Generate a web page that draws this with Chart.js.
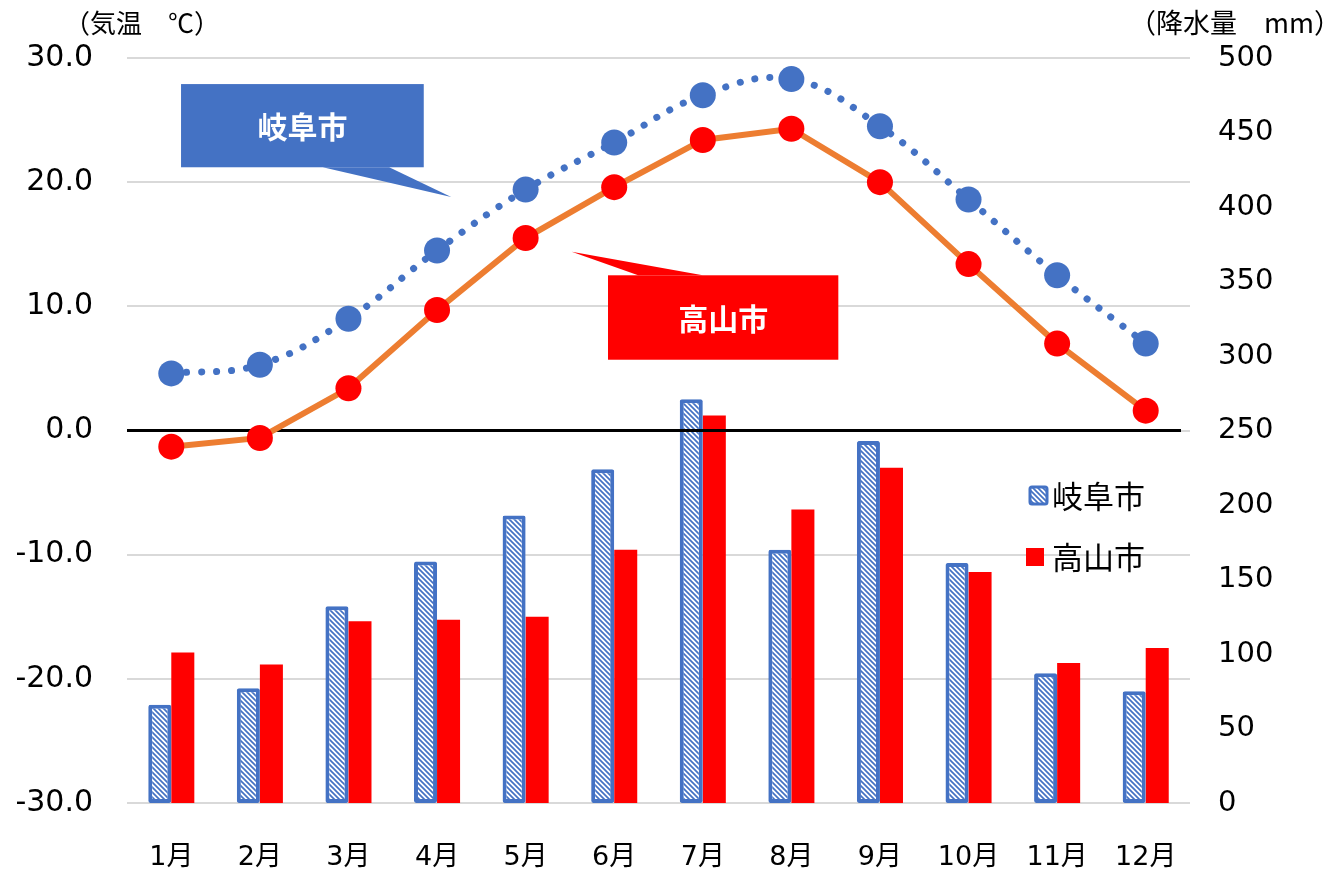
<!DOCTYPE html>
<html lang="ja">
<head>
<meta charset="utf-8">
<script src="https://cdn.jsdelivr.net/npm/chart.js@4.4.0/dist/chart.umd.min.js"></script>
<style>
  body { margin: 0; background: #fff; }
</style>
</head>
<body>
<canvas id="climateChart" width="1337" height="872"></canvas>
<script>
// data
const months = ['1月', '2月', '3月', '4月', '5月', '6月', '7月', '8月', '9月', '10月', '11月', '12月'];
const gifuTemp = [4.6, 5.3, 9.0, 14.5, 19.4, 23.2, 27.0, 28.3, 24.5, 18.6, 12.5, 7.0];
const takayamaTemp = [-1.3, -0.6, 3.4, 9.7, 15.5, 19.6, 23.4, 24.3, 20.0, 13.4, 7.0, 1.6];
const gifuRain = [66, 77, 132, 162, 193, 224, 271, 170, 243, 161, 87, 75];
const takayamaRain = [101, 93, 122, 123, 125, 170, 260, 197, 225, 155, 94, 104];
const tempTicks = [-30, -20, -10, 0, 10, 20, 30];
const rainTicks = [0, 50, 100, 150, 200, 250, 300, 350, 400, 450, 500];

const FONT = "'DejaVu Sans', 'Noto Sans CJK JP', sans-serif";
const JFONT = "'Noto Sans CJK JP', sans-serif";
const BLUE = '#4472C4';
const RED = '#FF0000';
const ORANGE = '#ED7D31';

const canvas = document.querySelector('#climateChart');
const ctx = canvas.getContext('2d');

// diagonal hatch like Excel's pattern fill
function makeHatch() {
    const c = document.createElement('canvas');
    c.width = 5; c.height = 5;
    const g = c.getContext('2d');
    g.fillStyle = '#fff';
    g.fillRect(0, 0, 5, 5);
    g.strokeStyle = BLUE;
    g.lineWidth = 1.7;
    g.beginPath();
    g.moveTo(-1, -1); g.lineTo(6, 6);
    g.moveTo(-1, 4); g.lineTo(1, 6);
    g.moveTo(4, -1); g.lineTo(6, 1);
    g.stroke();
    return ctx.createPattern(c, 'repeat');
}
const hatch = makeHatch();

function callout(c, x, y, pts, color, text) {
    const xs = c.scales.x, ys = c.scales.y;
    const px = v => xs.getPixelForValue(v);
    const py = v => ys.getPixelForValue(v);
    const g = c.ctx;
    g.save();
    g.fillStyle = color;
    g.fillRect(px(x[0]), py(y[0]), px(x[1]) - px(x[0]), py(y[1]) - py(y[0]));
    g.beginPath();
    g.moveTo(px(pts[0][0]), py(pts[0][1]));
    g.lineTo(px(pts[1][0]), py(pts[1][1]));
    g.lineTo(px(pts[2][0]), py(pts[2][1]));
    g.closePath();
    g.fill();
    g.fillStyle = '#fff';
    g.font = 'bold 30px ' + JFONT;
    g.textAlign = 'center';
    g.textBaseline = 'middle';
    g.fillText(text, (px(x[0]) + px(x[1])) / 2, (py(y[0]) + py(y[1])) / 2 + 1);
    g.restore();
}

const decorations = {
    id: 'decorations',
    afterDatasetDraw(c, args) {
        // zero line sits above the bars, below the lines
        if (args.index !== 2) return;
        const g = c.ctx, y0 = c.scales.y.getPixelForValue(0);
        g.save();
        g.strokeStyle = '#000';
        g.lineWidth = 3;
        g.beginPath();
        g.moveTo(c.chartArea.left, y0);
        g.lineTo(c.chartArea.right - 9, y0);
        g.stroke();
        g.restore();
    },
    afterDraw(c) {
        const g = c.ctx;
        callout(c, [0.11, 2.85], [27.9, 21.2], [[1.71, 21.2], [3.16, 18.8], [2.46, 21.2]], BLUE, '岐阜市');
        callout(c, [4.93, 7.53], [12.5, 5.7], [[5.27, 12.5], [4.52, 14.4], [6.0, 12.5]], RED, '高山市');

        g.save();
        g.fillStyle = '#000';
        g.textBaseline = 'middle';
        g.textAlign = 'left';
        g.font = '26px ' + JFONT;
        g.fillText('（気温　℃）', 64, 23);
        g.font = '27px ' + JFONT;
        g.fillText('（降水量　mm）', 1129, 23);

        // legend
        g.fillStyle = hatch;
        g.fillRect(1030, 487, 17, 17);
        g.strokeStyle = BLUE;
        g.lineWidth = 3;
        g.beginPath();
        g.roundRect(1030, 487, 17, 17, 2);
        g.stroke();
        g.fillStyle = RED;
        g.fillRect(1026, 548, 18, 18);
        g.fillStyle = '#000';
        g.font = '31px ' + JFONT;
        g.fillText('岐阜市', 1052, 496);
        g.fillText('高山市', 1052, 557);
        g.restore();
    }
};

new Chart(ctx, {
    data: {
        labels: months,
        datasets: [
            {
                type: 'line',
                label: '岐阜市',
                data: gifuTemp,
                yAxisID: 'y',
                borderColor: BLUE,
                borderWidth: 7,
                borderDash: [0.1, 15],
                borderCapStyle: 'round',
                tension: 0.4,
                pointRadius: 13,
                pointHoverRadius: 13,
                pointBackgroundColor: BLUE,
                pointBorderWidth: 0
            },
            {
                type: 'line',
                label: '高山市',
                data: takayamaTemp,
                yAxisID: 'y',
                borderColor: ORANGE,
                borderWidth: 6,
                tension: 0,
                pointRadius: 13,
                pointHoverRadius: 13,
                pointBackgroundColor: RED,
                pointBorderWidth: 0
            },
            {
                type: 'bar',
                label: '岐阜市',
                data: gifuRain,
                yAxisID: 'y2',
                backgroundColor: hatch,
                borderColor: BLUE,
                borderWidth: 4,
                borderSkipped: false,
                borderRadius: 2,
                categoryPercentage: 0.52,
                barPercentage: 1.0
            },
            {
                type: 'bar',
                label: '高山市',
                data: takayamaRain,
                yAxisID: 'y2',
                backgroundColor: RED,
                borderWidth: 0,
                categoryPercentage: 0.52,
                barPercentage: 1.0
            }
        ]
    },
    options: {
        responsive: false,
        animation: false,
        devicePixelRatio: 1,
        layout: { padding: { top: 58, bottom: 0, left: 0, right: 0 } },
        plugins: {
            legend: { display: false },
            tooltip: { enabled: false }
        },
        scales: {
            x: {
                grid: { display: false },
                border: { display: false },
                ticks: {
                    color: '#000',
                    font: { family: FONT, size: 27 },
                    padding: 31,
                    maxRotation: 0
                },
                afterFit(s) { s.height = 69; }
            },
            y: {
                position: 'left',
                min: -30,
                max: 30,
                afterBuildTicks(s) { s.ticks = tempTicks.map(v => ({ value: v })); },
                grid: {
                    color: '#D9D9D9',
                    lineWidth: 2,
                    drawTicks: false
                },
                border: { display: false },
                ticks: {
                    color: '#000',
                    font: { family: FONT, size: 30 },
                    padding: 34,
                    callback: v => v.toFixed(1)
                },
                afterFit(s) { s.width = 127; }
            },
            y2: {
                position: 'right',
                min: 0,
                max: 500,
                afterBuildTicks(s) { s.ticks = rainTicks.map(v => ({ value: v })); },
                grid: { display: false, drawTicks: false },
                border: { display: false },
                ticks: {
                    color: '#000',
                    font: { family: FONT, size: 29 },
                    padding: 28
                },
                afterFit(s) { s.width = 147; }
            }
        }
    },
    plugins: [decorations]
});
</script>
</body>
</html>
